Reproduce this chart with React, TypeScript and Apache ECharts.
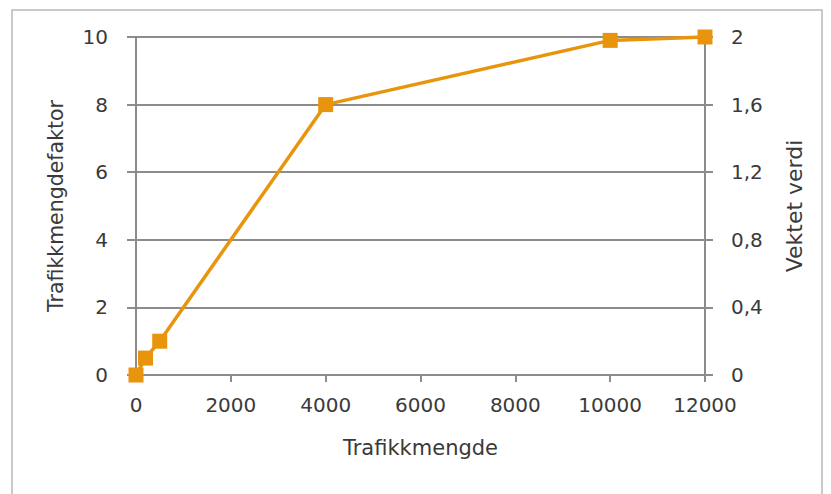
import React, { useEffect, useRef } from "react";
import * as echarts from "echarts";

const trafikkmengde = [0, 200, 500, 4000, 10000, 12000];
const faktor = [0, 0.5, 1, 8, 9.9, 10];
const rightTicks = [0, 0.4, 0.8, 1.2, 1.6, 2];

export default function App() {
  const ref = useRef<HTMLDivElement>(null);
  useEffect(() => {
    const chart = echarts.init(ref.current!, null, { renderer: "svg" });
    const font = "'DejaVu Sans', sans-serif";
    const grey = "#8c8c8c";
    const txt = "#3a3a3a";
    chart.setOption({
      animation: false,
      backgroundColor: "#ffffff",
      graphic: [
        {
          type: "rect",
          shape: { x: 12, y: 10, width: 810, height: 490 },
          style: { fill: "none", stroke: "#b8b8b8", lineWidth: 1.5 },
          silent: true,
          z: -1,
        },
      ],
      grid: { left: 136, right: 126, top: 37, bottom: 119 },
      xAxis: {
        type: "value",
        min: 0,
        max: 12000,
        interval: 2000,
        name: "Trafikkmengde",
        nameLocation: "middle",
        nameGap: 62,
        nameTextStyle: { fontFamily: font, fontSize: 21, color: txt },
        axisLine: { show: true, lineStyle: { color: grey, width: 2 } },
        axisTick: { show: true, length: 7, lineStyle: { color: grey, width: 2 } },
        axisLabel: {
          fontFamily: font,
          fontSize: 20,
          color: txt,
          margin: 20,
          formatter: (v: number) => String(v),
        },
        splitLine: { show: false },
      },
      yAxis: [
        {
          type: "value",
          min: 0,
          max: 10,
          interval: 2,
          position: "left",
          name: "Trafikkmengdefaktor",
          nameLocation: "middle",
          nameGap: 70,
          nameTextStyle: { fontFamily: font, fontSize: 20.5, color: txt },
          axisLine: { show: true, lineStyle: { color: grey, width: 2 } },
          axisTick: { show: true, length: 9, lineStyle: { color: grey, width: 2 } },
          axisLabel: { fontFamily: font, fontSize: 20, color: txt, margin: 28 },
          splitLine: { show: true, lineStyle: { color: grey, width: 2 } },
        },
        {
          type: "value",
          min: 0,
          max: 2,
          interval: 0.4,
          position: "right",
          name: "Vektet verdi",
          nameLocation: "middle",
          nameGap: 78,
          nameRotate: 90,
          nameTextStyle: { fontFamily: font, fontSize: 22, color: txt },
          axisLine: { show: true, lineStyle: { color: grey, width: 2 } },
          axisTick: { show: true, inside: false, length: 8, lineStyle: { color: grey, width: 2 } },
          axisLabel: {
            fontFamily: font,
            fontSize: 20,
            color: txt,
            margin: 26,
            formatter: (v: number) => {
              const r = rightTicks.find((t) => Math.abs(t - v) < 1e-6);
              const n = r === undefined ? v : r;
              return String(Number(n.toFixed(1))).replace(".", ",");
            },
          },
          splitLine: { show: false },
        },
      ],
      series: [
        {
          type: "line",
          yAxisIndex: 0,
          data: trafikkmengde.map((x, i) => [x, faktor[i]]),
          symbol: "rect",
          symbolSize: 15,
          lineStyle: { color: "#e8940c", width: 3.5 },
          itemStyle: { color: "#e8940c" },
          clip: false,
          z: 5,
        },
      ],
    });
    return () => chart.dispose();
  }, []);
  return (
    <div
      ref={ref}
      style={{ position: "fixed", left: 0, top: 0, width: 831, height: 494 }}
    />
  );
}
